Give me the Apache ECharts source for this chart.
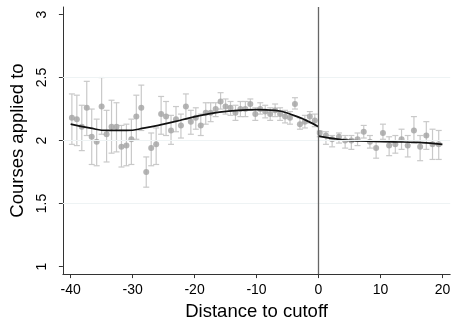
<!DOCTYPE html>
<html><head><meta charset="utf-8">
<script src="https://cdn.jsdelivr.net/npm/echarts@6/dist/echarts.min.js"></script>
<style>html,body{margin:0;padding:0;background:#fff}#c{width:453px;height:326px}</style>
</head><body><div id="c"></div>
<script>
// Binned data (left of cutoff)
const leftX = [-39.8,-39.0,-38.2,-37.4,-36.6,-35.8,-35.0,-34.2,-33.4,-32.6,-31.8,-31.0,-30.2,-29.4,-28.6,-27.8,-27.0,-26.2,-25.4,-24.6,-23.8,-23.0,-22.2,-21.4,-20.6,-19.8,-19.0,-18.2,-17.4,-16.6,-15.8,-15.0,-14.2,-13.4,-12.6,-11.8,-11.0,-10.2,-9.4,-8.6,-7.8,-7.0,-6.2,-5.4,-4.6,-3.8,-3.0,-2.2,-1.4,-0.6];
const leftMean = [2.18,2.17,2.11,2.26,2.03,1.99,2.27,2.05,2.11,2.11,1.95,1.96,2.01,2.19,2.26,1.75,1.94,1.97,2.21,2.19,2.08,2.17,2.12,2.27,2.15,2.18,2.12,2.22,2.22,2.25,2.31,2.27,2.26,2.22,2.25,2.25,2.29,2.21,2.25,2.23,2.21,2.24,2.21,2.19,2.18,2.29,2.13,2.15,2.19,2.16];
const leftHi = [2.37,2.36,2.28,2.47,2.25,2.17,2.50,2.24,2.32,2.30,2.12,2.13,2.17,2.36,2.44,1.87,2.06,2.10,2.35,2.31,2.20,2.27,2.21,2.37,2.24,2.26,2.21,2.30,2.30,2.30,2.38,2.33,2.31,2.28,2.31,2.31,2.33,2.26,2.30,2.28,2.26,2.29,2.26,2.24,2.23,2.34,2.18,2.20,2.23,2.21];
const leftLo = [1.97,1.96,1.92,2.04,1.81,1.80,2.05,1.83,1.90,1.91,1.79,1.80,1.81,2.01,2.08,1.63,1.80,1.81,2.05,2.04,1.97,2.07,2.02,2.17,2.05,2.09,2.04,2.13,2.15,2.19,2.25,2.21,2.20,2.16,2.19,2.19,2.24,2.16,2.21,2.18,2.16,2.19,2.16,2.14,2.13,2.25,2.09,2.10,2.14,2.11];
// Binned data (right of cutoff)
const rightX = [0.2,1.2,2.2,3.3,4.3,5.3,6.3,7.3,8.3,9.3,10.4,11.4,12.4,13.4,14.4,15.4,16.4,17.4,18.4,19.4];
const rightMean = [2.06,2.04,2.01,2.03,2.00,2.00,2.01,2.07,1.99,1.94,2.06,1.96,1.97,2.01,1.96,2.08,1.95,2.04,1.97,1.97];
const rightHi = [2.075,2.07,2.04,2.06,2.04,2.04,2.06,2.12,2.04,1.99,2.13,2.03,2.04,2.09,2.04,2.19,2.04,2.15,2.09,2.08];
const rightLo = [2.03,1.97,1.95,1.98,1.94,1.93,1.96,2.02,1.94,1.86,2.01,1.88,1.90,1.93,1.87,1.98,1.84,1.93,1.85,1.85];
// Fitted curves
const fitLeftX = [-40,-37,-34,-31,-28,-25,-22,-19,-16,-13,-10,-7,-4,-2,0];
const fitLeftY = [2.13,2.10,2.08,2.08,2.10,2.13,2.165,2.20,2.225,2.24,2.245,2.24,2.20,2.16,2.11];
const fitRightX = [0,4,8,12,16,20];
const fitRightY = [2.035,2.005,1.995,1.99,1.985,1.97];
// Ticks
const xTicks = [-40,-30,-20,-10,0,10,20];
const yTicks = [1,1.5,2,2.5,3];
const yGrid = [1.5,2,2.5];

const allX = leftX.concat(rightX), allMean = leftMean.concat(rightMean);
const allHi = leftHi.concat(rightHi), allLo = leftLo.concat(rightLo);
const ptData = allX.map((x,i)=>[x, allMean[i]]);
const barData = allX.map((x,i)=>[x, allLo[i], allHi[i]]);
const zip = (a,b)=>a.map((x,i)=>[x,b[i]]);
const FONT = '"Liberation Sans", Arial, Helvetica, sans-serif';

const chart = echarts.init(document.getElementById('c'), null, {renderer:'canvas'});
chart.setOption({
  animation:false,
  backgroundColor:'#fff',
  grid:{left:52, right:1, top:7, bottom:46, containLabel:false},
  xAxis:{
    type:'value', min:-41.25, max:21.25,
    name:'Distance to cutoff', nameLocation:'middle', nameGap:26,
    nameTextStyle:{fontFamily:FONT, fontSize:18.5, color:'#000'},
    axisLine:{show:true, onZero:false, lineStyle:{color:'#333', width:1}},
    axisTick:{show:true, length:4, customValues:xTicks, lineStyle:{color:'#333'}},
    axisLabel:{customValues:xTicks, margin:9, fontFamily:FONT, fontSize:14, color:'#000'},
    splitLine:{show:false}
  },
  yAxis:{
    type:'value', min:0.94, max:3.06,
    name:'Courses applied to', nameLocation:'middle', nameGap:35,
    nameTextStyle:{fontFamily:FONT, fontSize:18.5, color:'#000'},
    axisLine:{show:true, onZero:false, lineStyle:{color:'#333', width:1}},
    axisTick:{show:true, length:4, customValues:yTicks, lineStyle:{color:'#333'}},
    axisLabel:{customValues:yTicks, rotate:90, margin:14, fontFamily:FONT, fontSize:14, color:'#000',
      formatter:v=>String(Math.round(v*10)/10)},
    splitLine:{show:false}
  },
  series:[
    {
      type:'custom', z:1, silent:true,
      data:barData, encode:{x:0, y:[1,2]},
      renderItem:(params, api)=>{
        const x = api.value(0), lo = api.value(1), hi = api.value(2);
        const a = api.coord([x, hi]), b = api.coord([x, lo]);
        const w = 3, st = {stroke:'#c9c9c9', lineWidth:1.2};
        return {type:'group', children:[
          {type:'line', shape:{x1:a[0],y1:a[1],x2:b[0],y2:b[1]}, style:st},
          {type:'line', shape:{x1:a[0]-w,y1:a[1],x2:a[0]+w,y2:a[1]}, style:st},
          {type:'line', shape:{x1:b[0]-w,y1:b[1],x2:b[0]+w,y2:b[1]}, style:st}
        ]};
      },
      markLine:{
        silent:true, symbol:'none', label:{show:false},
        data:yGrid.map(v=>({yAxis:v, lineStyle:{color:'#eef3f4', width:1, type:'solid'}}))
          .concat([{xAxis:0, lineStyle:{color:'#666', width:1.3, type:'solid'}}])
      }
    },
    {
      type:'scatter', z:2, silent:true, data:ptData,
      symbol:'circle', symbolSize:6,
      itemStyle:{color:'#a3a3a3'}
    },
    {
      type:'line', z:3, silent:true, data:zip(fitLeftX, fitLeftY),
      smooth:0.5, showSymbol:false, lineStyle:{color:'#111', width:1.7}
    },
    {
      type:'line', z:3, silent:true, data:zip(fitRightX, fitRightY),
      smooth:0.5, showSymbol:false, lineStyle:{color:'#111', width:1.7}
    }
  ]
});
</script></body></html>
